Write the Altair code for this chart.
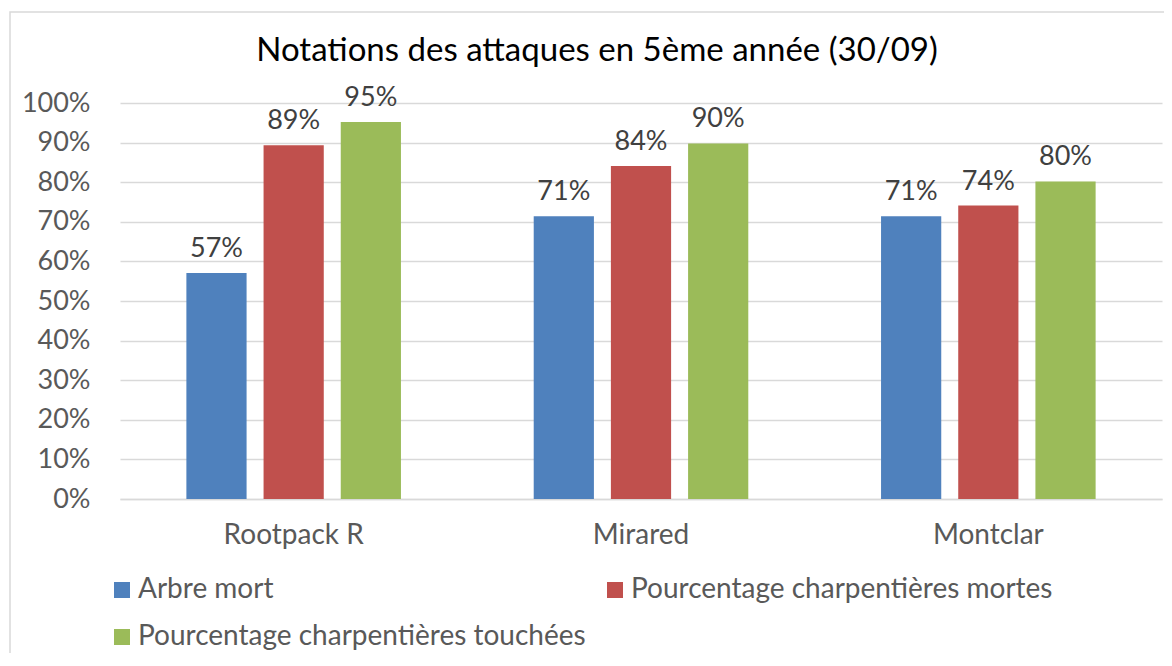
import altair as alt
import pandas as pd

groups = ["Rootpack R", "Mirared", "Montclar"]
series = ["Arbre mort", "Pourcentage charpentières mortes", "Pourcentage charpentières touchées"]
arbre_mort = [0.571, 0.714, 0.714]
charp_mortes = [0.893, 0.841, 0.741]
charp_touchees = [0.952, 0.898, 0.802]
colors = ["#4f81bd", "#c0504d", "#9bbb59"]
y_ticks = [0.0, 0.1, 0.2, 0.3, 0.4, 0.5, 0.6, 0.7, 0.8, 0.9, 1.0]
title_text = "Notations des attaques en 5ème année (30/09)"

rows = []
for s, vals in zip(series, [arbre_mort, charp_mortes, charp_touchees]):
    for g, v in zip(groups, vals):
        rows.append({"groupe": g, "serie": s, "valeur": v})
df = pd.DataFrame(rows)

FONT = "Lato"
GRID = "#d9d9d9"

x = alt.X("groupe:N", sort=groups,
          scale=alt.Scale(paddingInner=0, paddingOuter=0),
          axis=alt.Axis(title=None, labelAngle=0, ticks=False, domainColor=GRID,
                        domainWidth=1.5, labelPadding=22, labelFontSize=28,
                        labelColor="#595959", labelFont=FONT, labelBaseline="top"))
xoff = alt.XOffset("serie:N", sort=series,
                   scale=alt.Scale(paddingInner=0.22, paddingOuter=0.86))
y = alt.Y("valeur:Q", scale=alt.Scale(domain=[0, 1]),
          axis=alt.Axis(title=None, format=".0%", values=y_ticks, ticks=False,
                        domain=False, gridColor=GRID, gridWidth=1.5,
                        labelPadding=30, labelFontSize=27, labelColor="#595959",
                        labelFont=FONT))
color = alt.Color("serie:N", sort=series,
                  scale=alt.Scale(domain=series, range=colors),
                  legend=alt.Legend(title=None, orient="none", legendX=-12, legendY=473,
                                    direction="horizontal",
                                    columns=2, columnPadding=15, rowPadding=19,
                                    symbolType="square", symbolSize=256,
                                    symbolStrokeWidth=0, labelFontSize=28,
                                    labelFont=FONT, labelColor="#595959",
                                    labelOffset=2, labelLimit=0))

base = alt.Chart(df)
bars = base.mark_bar().encode(x=x, xOffset=xoff, y=y, color=color)
labels = base.mark_text(dy=-16, baseline="alphabetic", fontSize=27, font=FONT,
                        color="#404040").encode(
    x=x, xOffset=xoff, y=y, text=alt.Text("valeur:Q", format=".0%"))

frame = alt.Chart(alt.Data(values=[{}])).mark_rect(
    fillOpacity=0, stroke=GRID, strokeWidth=1.5).encode(
    x=alt.value(-110), x2=alt.value(1200), y=alt.value(-91), y2=alt.value(700))

title = alt.Chart(alt.Data(values=[{}])).mark_text(
    text=title_text, font=FONT, fontSize=33, color="#000000",
    align="center", baseline="alphabetic").encode(
    x=alt.value(477), y=alt.value(-42))

chart = alt.layer(frame, title, bars, labels).properties(
    width=1042, height=396,
    padding={"left": 112, "top": 95, "right": 2, "bottom": 154},
    autosize=alt.AutoSizeParams(type="none"),
    background="white",
).configure_view(strokeWidth=0)

chart.save("out.html", embed_options={"renderer": "svg", "actions": False})
